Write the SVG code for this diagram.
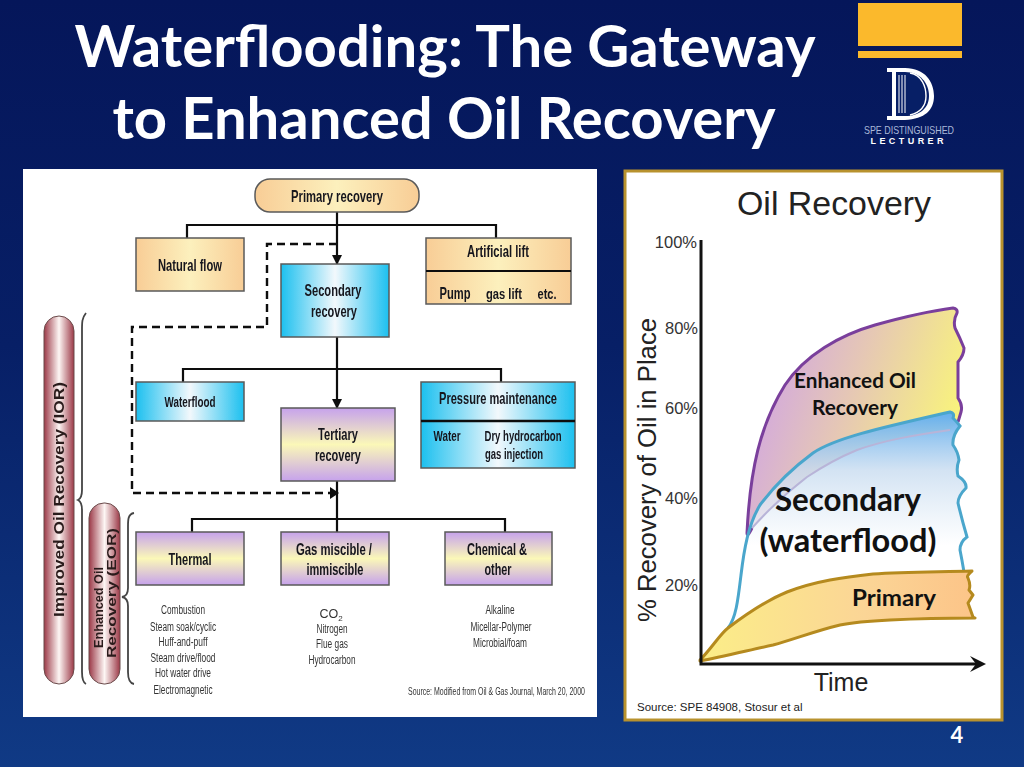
<svg xmlns="http://www.w3.org/2000/svg" width="1024" height="767" viewBox="0 0 1024 767">
<defs>
<linearGradient id="bg" x1="0" y1="0" x2="0" y2="1"><stop offset="0" stop-color="#05165a"/><stop offset=".45" stop-color="#071f66"/><stop offset="1" stop-color="#103a85"/></linearGradient>
<linearGradient id="orange"><stop offset="0" stop-color="#f8cd96"/><stop offset=".5" stop-color="#fcf0bd"/><stop offset="1" stop-color="#f8cd96"/></linearGradient>
<linearGradient id="cyan"><stop offset="0" stop-color="#1cc0ef"/><stop offset=".5" stop-color="#f2f8fc"/><stop offset="1" stop-color="#1cc0ef"/></linearGradient>
<linearGradient id="purple" x1="0" y1="0" x2="0" y2="1"><stop offset="0" stop-color="#c6a2ec"/><stop offset=".5" stop-color="#fbf8b8"/><stop offset="1" stop-color="#c6a2ec"/></linearGradient>
<linearGradient id="pill"><stop offset="0" stop-color="#9c3a48"/><stop offset=".5" stop-color="#fdf6f4"/><stop offset="1" stop-color="#9c3a48"/></linearGradient>
<linearGradient id="eorFill" x1="0" y1="0" x2="1" y2=".35"><stop offset=".1" stop-color="#cfa3e6"/><stop offset=".55" stop-color="#e6c8b4"/><stop offset="1" stop-color="#f8f27e"/></linearGradient>
<linearGradient id="secFill" x1="0" y1="0" x2="0" y2="1"><stop offset="0" stop-color="#62aeee"/><stop offset=".27" stop-color="#c8dcf0" stop-opacity=".8"/><stop offset=".62" stop-color="#fff" stop-opacity=".7"/></linearGradient>
<linearGradient id="priFill"><stop offset="0" stop-color="#fbee88"/><stop offset=".6" stop-color="#fbd596"/><stop offset="1" stop-color="#fcc488"/></linearGradient>
<marker id="arr" markerUnits="userSpaceOnUse" markerWidth="10" markerHeight="12" refX="9" refY="6" orient="auto"><path d="M0 1L10 6L0 11Z" fill="#111"/></marker>
<filter id="soft" x="-2%" y="-2%" width="104%" height="104%"><feGaussianBlur stdDeviation=".45"/></filter>
<style>
.t{font-family:"Lato","Liberation Sans",sans-serif;font-weight:700}
.title{font-size:58px;fill:#fff;text-anchor:middle}
.box{stroke:#5a5a5a;stroke-width:1.5}
.b{font-family:"Liberation Sans",sans-serif;font-weight:700;font-size:17px;fill:#16161e;text-anchor:middle}
.s{font-family:"Liberation Sans",sans-serif;font-size:12.5px;fill:#333;text-anchor:middle}
.w{font-family:"Liberation Sans",sans-serif;font-weight:700;fill:#2a1a1a;font-size:14px}
.line{fill:none;stroke:#111;stroke-width:2.2}
.dash{fill:none;stroke:#111;stroke-width:2.4;stroke-dasharray:8 5}
.brace{fill:none;stroke:#444;stroke-width:1.8}
.a{font-family:"Liberation Sans",sans-serif;fill:#222}
.pct{font-size:16.5px;text-anchor:end;fill:#333}
.c{fill:#111;text-anchor:middle}
</style>
</defs>
<rect width="1024" height="767" fill="url(#bg)"/>
<g id="title" class="t"><text class="title" x="445" y="67">Waterflooding: The Gateway</text><text class="title" x="444" y="139">to Enhanced Oil Recovery</text></g>
<g id="logo">
<rect x="858" y="3" width="104" height="43" fill="#fbb92c"/><rect x="858" y="51" width="104" height="7" fill="#fbb92c"/>
<path d="M887 68H905C925 68 934 82 934 96C934 110 925 119 905 120H887V116H892V72H887Z" fill="#fff"/>
<path d="M896 72H905C920 72 929 83 929 96C929 108 920 116 905 116H896Z" fill="#071f66"/>
<path d="M899 75V113M902 75V113M905 75V113" stroke="#fff" stroke-width="1"/>
<path d="M910 73C922 75 926 87 926 96C926 104 922 112 910 115" fill="none" stroke="#fff" stroke-width="1.4"/>
<text x="909" y="134" font-family="Liberation Sans,sans-serif" font-size="10.5" fill="#aab8d8" text-anchor="middle" textLength="90" lengthAdjust="spacingAndGlyphs">SPE DISTINGUISHED</text>
<text x="907" y="144" font-family="Liberation Sans,sans-serif" font-size="9" font-weight="700" fill="#fff" text-anchor="middle" textLength="73">LECTURER</text>
</g>
<rect id="leftPanel" x="23" y="169" width="574" height="548" fill="#fff"/>
<g filter="url(#soft)">
<g id="connectors">
<path class="line" d="M187 238V225H496V238"/>
<path class="line" d="M337 212V264" marker-end="url(#arr)"/>
<path class="line" d="M183 382V369H501V382"/>
<path class="line" d="M337 337V408" marker-end="url(#arr)"/>
<path class="line" d="M337 481V532M192 532V519H505V532"/>
<path class="dash" d="M337 244H267V327H132V493H330"/>
<path d="M330 487L339 493L330 499Z" fill="#111"/>
</g>
<g id="primary"><rect class="box" x="255" y="179" width="164" height="33" rx="15" fill="url(#orange)"/><text class="b" x="337" y="202" textLength="92" lengthAdjust="spacingAndGlyphs">Primary recovery</text></g>
<g id="natural"><rect class="box" x="136" y="238" width="108" height="53" fill="url(#orange)"/><text class="b" x="190" y="271" textLength="64" lengthAdjust="spacingAndGlyphs">Natural flow</text></g>
<g id="secondary"><rect class="box" x="281" y="264" width="108" height="73" fill="url(#cyan)"/><text class="b" x="333" y="296" textLength="57" lengthAdjust="spacingAndGlyphs">Secondary</text><text class="b" x="334" y="317" textLength="46" lengthAdjust="spacingAndGlyphs">recovery</text></g>
<g id="artificial"><rect class="box" x="426" y="238" width="145" height="66" fill="url(#orange)"/><path d="M426 271H571" stroke="#111" stroke-width="2"/><text class="b" x="498" y="257" textLength="62" lengthAdjust="spacingAndGlyphs">Artificial lift</text><text class="b" x="455" y="299" textLength="31" lengthAdjust="spacingAndGlyphs">Pump</text><text class="b" x="504" y="299" style="font-size:15px" textLength="36" lengthAdjust="spacingAndGlyphs">gas lift</text><text class="b" x="547" y="299" style="font-size:15px" textLength="19" lengthAdjust="spacingAndGlyphs">etc.</text></g>
<g id="waterflood"><rect class="box" x="136" y="382" width="108" height="39" fill="url(#cyan)"/><text class="b" x="190" y="407" style="font-size:15px" textLength="51" lengthAdjust="spacingAndGlyphs">Waterflood</text></g>
<g id="tertiary"><rect class="box" x="281" y="408" width="114" height="73" fill="url(#purple)"/><text class="b" x="338" y="440" textLength="40" lengthAdjust="spacingAndGlyphs">Tertiary</text><text class="b" x="338" y="461" textLength="46" lengthAdjust="spacingAndGlyphs">recovery</text></g>
<g id="pressure"><rect class="box" x="421" y="382" width="154" height="86" fill="url(#cyan)"/><path d="M421 421H575" stroke="#111" stroke-width="2.4"/><text class="b" x="498" y="404" textLength="118" lengthAdjust="spacingAndGlyphs">Pressure maintenance</text><text class="b" x="447" y="441" style="font-size:15px" textLength="27" lengthAdjust="spacingAndGlyphs">Water</text><text class="b" x="523" y="441" style="font-size:15px" textLength="77" lengthAdjust="spacingAndGlyphs">Dry hydrocarbon</text><text class="b" x="514" y="459" style="font-size:15px" textLength="58" lengthAdjust="spacingAndGlyphs">gas injection</text></g>
<g id="thermal"><rect class="box" x="136" y="532" width="108" height="53" fill="url(#purple)"/><text class="b" x="190" y="565" textLength="43" lengthAdjust="spacingAndGlyphs">Thermal</text></g>
<g id="gas"><rect class="box" x="281" y="532" width="108" height="53" fill="url(#purple)"/><text class="b" x="334" y="555" textLength="76" lengthAdjust="spacingAndGlyphs">Gas miscible /</text><text class="b" x="335" y="575" textLength="57" lengthAdjust="spacingAndGlyphs">immiscible</text></g>
<g id="chemical"><rect class="box" x="445" y="532" width="107" height="53" fill="url(#purple)"/><text class="b" x="497" y="555" textLength="60" lengthAdjust="spacingAndGlyphs">Chemical &amp;</text><text class="b" x="498" y="575" textLength="27" lengthAdjust="spacingAndGlyphs">other</text></g>
<g id="thermalList"><text class="s" x="183" y="614" textLength="44" lengthAdjust="spacingAndGlyphs">Combustion</text><text class="s" x="183" y="631" textLength="66" lengthAdjust="spacingAndGlyphs">Steam soak/cyclic</text><text class="s" x="183" y="646" textLength="49" lengthAdjust="spacingAndGlyphs">Huff-and-puff</text><text class="s" x="183" y="662" textLength="65" lengthAdjust="spacingAndGlyphs">Steam drive/flood</text><text class="s" x="183" y="677" textLength="56" lengthAdjust="spacingAndGlyphs">Hot water drive</text><text class="s" x="183" y="694" textLength="59" lengthAdjust="spacingAndGlyphs">Electromagnetic</text></g>
<g id="gasList"><text class="s" x="331" y="618">CO<tspan style="font-size:8px" dy="3">2</tspan></text><text class="s" x="332" y="633" textLength="31" lengthAdjust="spacingAndGlyphs">Nitrogen</text><text class="s" x="332" y="648" textLength="32" lengthAdjust="spacingAndGlyphs">Flue gas</text><text class="s" x="332" y="664" textLength="47" lengthAdjust="spacingAndGlyphs">Hydrocarbon</text></g>
<g id="chemicalList"><text class="s" x="500" y="614" textLength="29" lengthAdjust="spacingAndGlyphs">Alkaline</text><text class="s" x="501" y="631" textLength="61" lengthAdjust="spacingAndGlyphs">Micellar-Polymer</text><text class="s" x="500" y="647" textLength="54" lengthAdjust="spacingAndGlyphs">Microbial/foam</text></g>
<text id="source1" x="408" y="695" font-family="Liberation Sans,sans-serif" font-size="11" fill="#333" textLength="177" lengthAdjust="spacingAndGlyphs">Source:  Modified from Oil &amp; Gas Journal, March 20, 2000</text>
<g id="ior"><rect x="44" y="316" width="30" height="368" rx="15" fill="url(#pill)" stroke="#6a4a4a"/><text class="w" transform="translate(64 617) rotate(-90)" textLength="235" lengthAdjust="spacingAndGlyphs">Improved Oil Recovery (IOR)</text></g>
<g id="eor"><rect x="89" y="503" width="31" height="181" rx="15" fill="url(#pill)" stroke="#6a4a4a"/><text class="w" transform="translate(103 648) rotate(-90)" style="font-size:13px" textLength="81" lengthAdjust="spacingAndGlyphs">Enhanced Oil</text><text class="w" transform="translate(116 658) rotate(-90)" style="font-size:13px" textLength="130" lengthAdjust="spacingAndGlyphs">Recovery (EOR)</text></g>
<path id="iorBrace" class="brace" d="M86 313C82 318 82 322 82 330V490Q82 498 78 500Q82 502 82 510V672Q82 682 86 684"/>
<path id="eorBrace" class="brace" d="M134 513C128 514 128 520 128 526V588Q128 596 122 597Q128 598 128 606V672Q128 683 134 684"/>
</g>
<rect id="rightPanel" x="625" y="171" width="377" height="549" fill="#fff" stroke="#b8922e" stroke-width="3"/>
<g id="chart">
<path d="M747 533C750 470 760 425 785 385C805 355 840 335 875 325C900 318 930 311 953 308Q958 309 957 313Q953 320 955 328Q960 338 964 348Q964 355 958 362L958 398Q963 405 961 412L958 422L950 430C915 435 885 440 857 450C840 457 825 465 807 477C790 490 770 508 752 528Z" fill="url(#eorFill)"/>
<path d="M728 628C736 618 738 600 741 575C744 550 748 525 760 505C775 485 790 470 813 453C835 438 880 428 950 412Q955 413 953 418Q957 422 960 426Q952 436 953 445Q958 452 959 460Q956 468 958 476Q967 482 966 488Q958 496 958 503Q962 520 967 537Q960 542 960 550Q962 560 964 572L820 580L728 628Z" fill="url(#secFill)"/>
<path d="M752 528C770 508 790 490 807 477C825 465 840 457 857 450C885 440 915 435 950 430" fill="none" stroke="#b8b4d8" stroke-width="2"/>
<path d="M752 528Q747 538 747 533C750 470 760 425 785 385C805 355 840 335 875 325C900 318 930 311 953 308Q958 309 957 313Q953 320 955 328Q960 338 964 348Q964 355 958 362L958 398Q963 405 961 412L958 422" fill="none" stroke="#7a3f9c" stroke-width="3"/>
<path d="M728 628C736 618 738 600 741 575C744 550 748 525 760 505C775 485 790 470 813 453C835 438 880 428 950 412Q955 413 953 418Q957 422 960 426Q952 436 953 445Q958 452 959 460Q956 468 958 476Q967 482 966 488Q958 496 958 503Q962 520 967 537Q960 542 960 550Q962 560 964 572" fill="none" stroke="#4aa6cc" stroke-width="3"/>
<path d="M700 660C712 648 720 634 728 628C745 615 765 601 787 592C815 581 845 577 873 574C905 572 940 572 972 571Q966 576 968 578Q971 585 969 590L973 595Q970 600 968 603L973 617L975 618C940 618 910 619 890 620C870 621 855 622 840 625C815 631 795 639 773 645C750 650 720 657 700 661Z" fill="url(#priFill)" stroke="#b58a1e" stroke-width="3" stroke-linejoin="round"/>
<path d="M701 240V664H978" fill="none" stroke="#111" stroke-width="3"/>
<path d="M970 656L986 664L970 672L976 664Z" fill="#111"/>
<text class="a" x="834" y="215" font-size="33" text-anchor="middle" textLength="194" lengthAdjust="spacingAndGlyphs">Oil Recovery</text>
<text class="a pct" x="697" y="248">100%</text><text class="a pct" x="698" y="334">80%</text><text class="a pct" x="698" y="414">60%</text><text class="a pct" x="698" y="504">40%</text><text class="a pct" x="698" y="591">20%</text>
<text class="a" transform="translate(656 470) rotate(-90)" font-size="25.7" text-anchor="middle">% Recovery of Oil in Place</text>
<text class="a" x="841" y="691" font-size="25" text-anchor="middle">Time</text>
<text class="a" x="637" y="711" font-size="11.5">Source: SPE 84908, Stosur et al</text>
<g class="t"><text class="c" x="855" y="388" font-size="21" textLength="122" lengthAdjust="spacingAndGlyphs">Enhanced Oil</text><text class="c" x="855" y="415" font-size="21" textLength="86" lengthAdjust="spacingAndGlyphs">Recovery</text><text class="c" x="848" y="511" font-size="32" textLength="146" lengthAdjust="spacingAndGlyphs">Secondary</text><text class="c" x="848" y="552" font-size="32" textLength="177" lengthAdjust="spacingAndGlyphs">(waterflood)</text><text class="c" x="894" y="606" font-size="23" textLength="84" lengthAdjust="spacingAndGlyphs">Primary</text></g>
</g>
<text id="page" class="t" x="957" y="743" font-size="22" fill="#fff" text-anchor="middle">4</text>
</svg>
